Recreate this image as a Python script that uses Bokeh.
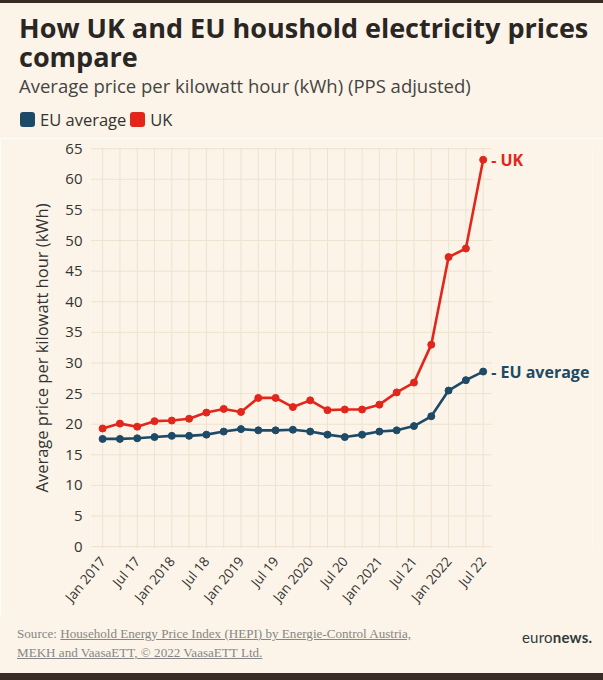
from math import pi
from bokeh.plotting import figure
from bokeh.models import Label, Range1d, FixedTicker, Div, ColumnDataSource
from bokeh.layouts import column
from bokeh.embed import file_html
from bokeh.resources import INLINE

# ---- data (quarterly, Jan 2017 .. Jul 2022) ----
periods = ["Jan 2017", "Apr 2017", "Jul 2017", "Oct 2017",
           "Jan 2018", "Apr 2018", "Jul 2018", "Oct 2018",
           "Jan 2019", "Apr 2019", "Jul 2019", "Oct 2019",
           "Jan 2020", "Apr 2020", "Jul 2020", "Oct 2020",
           "Jan 2021", "Apr 2021", "Jul 2021", "Oct 2021",
           "Jan 2022", "Apr 2022", "Jul 2022"]
eu_average = [17.6, 17.6, 17.7, 17.9, 18.1, 18.1, 18.3, 18.8, 19.2, 19.0, 19.0, 19.1,
              18.8, 18.3, 17.9, 18.3, 18.8, 19.0, 19.7, 21.3, 25.5, 27.2, 28.6]
uk = [19.3, 20.1, 19.6, 20.5, 20.6, 20.9, 21.9, 22.5, 22.0, 24.3, 24.3, 22.8,
      23.9, 22.3, 22.4, 22.4, 23.2, 25.2, 26.8, 33.0, 47.3, 48.7, 63.2]
tick_labels = ["Jan 2017", "Jul 17", "Jan 2018", "Jul 18", "Jan 2019", "Jul 19",
               "Jan 2020", "Jul 20", "Jan 2021", "Jul 21", "Jan 2022", "Jul 22"]
y_ticks = [0, 5, 10, 15, 20, 25, 30, 35, 40, 45, 50, 55, 60, 65]

title_lines = ["How UK and EU houshold electricity prices", "compare"]
subtitle = "Average price per kilowatt hour (kWh) (PPS adjusted)"
legend_labels = ["EU average", "UK"]
y_label = "Average price per kilowatt hour (kWh)"
source_prefix = "Source: "
source_link_1 = "Household Energy Price Index (HEPI) by Energie-Control Austria,"
source_link_2 = "MEKH and VaasaETT, \u00a9 2022 VaasaETT Ltd."

# ---- styling ----
BG = "#fcf4e8"
DARK = "#3a2a26"
GRID = "#eee2d0"
EU_C = "#1d4a66"
UK_C = "#e2261b"
TXT = "#2a2624"
FONT = "Open Sans"

PAGE_W = 603
HEAD_H, FIG_H, FOOT_H = 138, 478, 64
ML, MR, MT, MB = 90, 11, 9, 68
X0, XPLOT1, Y0, Y1 = -0.7, 22.5, -0.3, 65.2
XEND = 28.32  # extra room on the right for the end labels

x = list(range(len(periods)))
src = ColumnDataSource(dict(x=x, eu=eu_average, uk=uk, period=periods))

p = figure(width=PAGE_W, height=FIG_H, x_range=Range1d(X0, XEND), y_range=Range1d(Y0, Y1),
           output_backend="svg", toolbar_location=None,
           min_border_left=ML, min_border_right=MR, min_border_top=MT, min_border_bottom=MB,
           background_fill_color=BG, border_fill_color=BG, outline_line_color=None)
p.grid.visible = False

# grid lines limited to the plotting area
p.segment(x0=[X0] * len(y_ticks), x1=[XPLOT1] * len(y_ticks), y0=y_ticks, y1=y_ticks,
          line_color=GRID, line_width=1)
p.segment(x0=x, x1=x, y0=[Y0] * len(x), y1=[Y1] * len(x), line_color=GRID, line_width=1)

# axes
p.xaxis.ticker = FixedTicker(ticks=list(range(0, len(periods), 2)))
p.xaxis.major_label_overrides = {i * 2: t for i, t in enumerate(tick_labels)}
p.xaxis.major_label_orientation = 50 * pi / 180
p.yaxis.ticker = FixedTicker(ticks=y_ticks)
for ax in (p.xaxis, p.yaxis):
    ax.axis_line_color = None
    ax.major_tick_line_color = None
    ax.minor_tick_line_color = None
    ax.major_label_text_font = FONT
    ax.major_label_text_color = "#333333"
p.xaxis.major_label_text_font_size = "13.5px"
p.xaxis.major_label_standoff = 4
p.yaxis.major_tick_out = 0
p.yaxis.major_tick_in = 0
p.yaxis.major_label_text_font_size = "15px"
p.yaxis.major_label_standoff = 8
p.yaxis.axis_label = y_label
p.yaxis.axis_label_text_font = FONT
p.yaxis.axis_label_text_font_size = "16.5px"
p.yaxis.axis_label_text_font_style = "normal"
p.yaxis.axis_label_text_color = "#333333"
p.yaxis.axis_label_standoff = 9

# series
p.line("x", "eu", source=src, color=EU_C, line_width=2.6)
p.scatter("x", "eu", source=src, color=EU_C, size=7)
p.line("x", "uk", source=src, color=UK_C, line_width=2.6)
p.scatter("x", "uk", source=src, color=UK_C, size=7)

# end labels
p.add_layout(Label(x=x[-1], y=uk[-1], text="- UK", x_offset=8, text_baseline="middle",
                   text_font=FONT, text_font_size="16px", text_font_style="bold",
                   text_color=UK_C))
p.add_layout(Label(x=x[-1], y=eu_average[-1], text="- EU average", x_offset=8,
                   text_baseline="middle", text_font=FONT, text_font_size="16px",
                   text_font_style="bold", text_color=EU_C))

# ---- header (title, subtitle, legend) ----
swatch = ('<span style="display:inline-block;width:15px;height:15px;border-radius:3px;'
          'background:%s;margin-right:5px;"></span>')
legend_html = ''.join(
    '<span style="display:inline-flex;align-items:center;margin-right:4px;">%s%s</span>'
    % (swatch % c, lab) for c, lab in zip([EU_C, UK_C], legend_labels))
title_style = ("position:absolute;left:19px;font-family:'Open Sans';font-weight:700;"
               "font-size:27px;line-height:28px;color:%s;white-space:nowrap;" % TXT)
header_html = (
    '<div style="width:%dpx;height:%dpx;background:%s;position:relative;overflow:hidden;">'
    '<div style="position:absolute;left:0;top:0;width:100%%;height:3px;background:%s;"></div>'
    '<div style="%stop:13.5px;">%s</div>'
    '<div style="%stop:43px;">%s</div>'
    '<div style="position:absolute;left:19px;top:75.5px;font-family:\'Open Sans\';'
    'font-size:18.5px;line-height:20px;color:#444;white-space:nowrap;">%s</div>'
    '<div style="position:absolute;left:20px;top:111px;height:17px;display:flex;align-items:center;'
    'font-family:\'Open Sans\';font-size:16.5px;color:#333;white-space:nowrap;">%s</div>'
    '</div>'
) % (PAGE_W, HEAD_H, BG, DARK, title_style, title_lines[0], title_style, title_lines[1],
     subtitle, legend_html)
header = Div(text=header_html, width=PAGE_W, height=HEAD_H, margin=0)

# ---- footer (source, logo) ----
footer_html = (
    '<div style="width:%dpx;height:%dpx;background:%s;position:relative;overflow:hidden;">'
    '<div style="position:absolute;left:17px;top:8px;font-family:\'Liberation Serif\',serif;'
    'font-size:13.1px;line-height:19px;color:#868686;white-space:nowrap;">'
    '%s<u>%s</u><br><u>%s</u></div>'
    '<div style="position:absolute;left:522px;top:12px;font-family:Lato,sans-serif;'
    'font-size:15px;line-height:18px;color:#2f3b3b;letter-spacing:0.2px;">euro<b>news.</b></div>'
    '<div style="position:absolute;left:0;bottom:0;width:100%%;height:7px;background:%s;"></div>'
    '</div>'
) % (PAGE_W, FOOT_H, BG, source_prefix, source_link_1, source_link_2, DARK)
footer = Div(text=footer_html, width=PAGE_W, height=FOOT_H, margin=0)

layout = column(header, p, footer, spacing=0)
open("out.html", "w").write(file_html(layout, INLINE))
